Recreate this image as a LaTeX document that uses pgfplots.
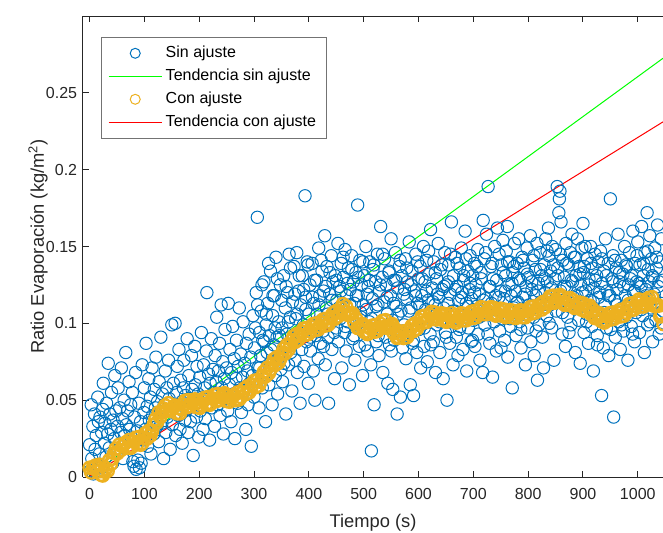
\documentclass[border=0pt]{standalone}
\usepackage{pgfplots}
\pgfplotsset{compat=1.18}
\usepackage{fontspec}
\setmainfont{Liberation Sans}

\definecolor{mblue}{rgb}{0,0.447,0.741}
\definecolor{myellow}{rgb}{0.929,0.694,0.125}
\definecolor{maxis}{rgb}{0.15,0.15,0.15}
\definecolor{mleg}{rgb}{0.45,0.45,0.45}

\begin{document}
\begin{tikzpicture}
\begin{axis}[
    scale only axis,
    width=348pt, height=276.6pt,
    xmin=-12, xmax=1046, ymin=0, ymax=0.3,
    axis x line*=box, axis y line*=left,
    axis line style={maxis, line width=0.6pt},
    tick style={maxis, line width=0.6pt},
    major tick length=3.5pt,
    tick align=inside,
    xtick={0,100,200,300,400,500,600,700,800,900,1000},
    ytick={0,0.05,0.1,0.15,0.2,0.25},
    scaled y ticks=false,
    /pgf/number format/assume math mode=true,
    ticklabel style={font=\fontsize{9.6}{11}\selectfont, text=maxis},
    xticklabel style={/pgf/number format/set thousands separator={}, yshift=-3.5pt},
    yticklabel style={/pgf/number format/fixed, /pgf/number format/precision=2},
    xlabel={Tiempo (s)},
    ylabel={Ratio Evaporación (kg/m\textsuperscript{2})},
    label style={font=\fontsize{11}{13}\selectfont, text=maxis},
    xlabel style={at={(axis description cs:0.5,-0.1)}, anchor=center},
    ylabel style={at={(axis description cs:-0.0776,0.5)}, anchor=center},
    clip=false,
    legend cell align=left,
    legend image code/.code={\draw[mark repeat=2,mark phase=2] plot coordinates {(0pt,0pt) (16pt,0pt) (32pt,0pt)};},
    legend style={at={(0.031,0.954)}, anchor=north west, draw=mleg, line width=0.5pt,
        fill=white, font=\fontsize{9.6}{11}\selectfont, inner xsep=4pt, inner ysep=2.5pt,
        row sep=0pt, nodes={inner sep=2pt, text height=7.3pt, text depth=2.5pt}},
]

% Sin ajuste
\addplot[forget plot, only marks, draw=mblue, mark=o, mark size=3.7pt, mark options={draw=mblue, line width=0.6pt}] coordinates {
(0,0.021)(1,0.004)(3,0.047)(4,0.012)(6,0.033)(7,0.002)(9,0.041)(10,0.018)(12,0.027)(13,0.008)(15,0.052)(16,0.036)(18,0.015)(19,0.039)(21,0.006)(22,0.029)(24,0.044)
(25,0.061)(27,0.022)(28,0.035)(30,0.013)(31,0.048)(33,0.028)(34,0.074)(36,0.019)(37,0.041)(39,0.031)(40,0.055)(42,0.009)(43,0.037)(45,0.025)(46,0.066)(48,0.043)(49,0.016)
(51,0.033)(52,0.058)(54,0.021)(55,0.045)(57,0.029)(58,0.071)(60,0.038)(61,0.012)(63,0.050)(64,0.027)(66,0.081)(67,0.034)(69,0.043)(70,0.019)(72,0.062)(73,0.031)(75,0.047)
(76,0.026)(78,0.055)(79,0.010)(81,0.007)(82,0.039)(84,0.068)(85,0.005)(87,0.030)(88,0.011)(90,0.048)(91,0.006)(93,0.036)(94,0.009)(96,0.073)(97,0.024)(99,0.042)
(100,0.058)(102,0.031)(103,0.087)(105,0.046)(106,0.020)(108,0.064)(109,0.037)(111,0.052)(112,0.015)(114,0.071)(115,0.040)(117,0.028)(118,0.057)(120,0.045)(121,0.078)(123,0.033)(124,0.049)
(126,0.023)(127,0.062)(129,0.042)(130,0.091)(132,0.035)(133,0.054)(135,0.012)(136,0.047)(138,0.069)(139,0.029)(141,0.058)(142,0.039)(144,0.076)(145,0.051)(147,0.018)(148,0.043)(150,0.099)
(151,0.034)(153,0.061)(154,0.046)(156,0.100)(157,0.027)(159,0.055)(160,0.072)(162,0.040)(163,0.083)(165,0.031)(166,0.063)(168,0.049)(169,0.022)(171,0.058)(172,0.076)(174,0.037)(175,0.053)
(177,0.044)(178,0.090)(180,0.029)(181,0.066)(183,0.051)(184,0.036)(186,0.079)(187,0.057)(189,0.014)(190,0.047)(192,0.085)(193,0.060)(195,0.039)(196,0.072)(198,0.054)(199,0.026)
(201,0.065)(202,0.043)(204,0.094)(205,0.052)(207,0.031)(208,0.073)(210,0.058)(211,0.038)(213,0.082)(214,0.120)(216,0.048)(217,0.067)(219,0.024)(220,0.061)(222,0.090)(223,0.045)(225,0.070)
(226,0.055)(228,0.033)(229,0.079)(231,0.062)(232,0.104)(234,0.047)(235,0.069)(237,0.087)(238,0.040)(240,0.112)(241,0.058)(243,0.075)(244,0.028)(246,0.064)(247,0.096)(249,0.051)
(250,0.071)(252,0.043)(253,0.113)(255,0.060)(256,0.083)(258,0.036)(259,0.068)(261,0.098)(262,0.054)(264,0.077)(265,0.025)(267,0.064)(268,0.089)(270,0.048)(271,0.072)(273,0.110)(274,0.058)
(276,0.080)(277,0.042)(279,0.065)(280,0.101)(282,0.056)(283,0.074)(285,0.031)(286,0.087)(288,0.069)(289,0.047)(291,0.093)(292,0.061)(294,0.078)(295,0.020)(297,0.066)(298,0.105)(300,0.052)
(301,0.084)(303,0.063)(304,0.120)(306,0.169)(307,0.071)(309,0.045)(310,0.094)(312,0.079)(313,0.108)(315,0.058)(316,0.089)(318,0.127)(319,0.068)(321,0.036)(322,0.099)(324,0.081)(325,0.113)
(327,0.060)(328,0.092)(330,0.134)(331,0.075)(333,0.047)(334,0.105)(336,0.086)(337,0.118)(339,0.066)(340,0.143)(342,0.091)(343,0.054)(345,0.101)(346,0.079)(348,0.125)(349,0.070)
(351,0.097)(352,0.062)(354,0.131)(355,0.085)(357,0.110)(358,0.041)(360,0.093)(361,0.120)(363,0.073)(364,0.145)(366,0.104)(367,0.081)(369,0.056)(370,0.114)(372,0.090)(373,0.137)(375,0.076)
(376,0.103)(378,0.146)(379,0.068)(381,0.121)(382,0.094)(384,0.048)(385,0.112)(387,0.083)(388,0.131)(390,0.099)(391,0.072)(393,0.183)(394,0.117)(396,0.088)(397,0.140)(399,0.061)(400,0.106)
(402,0.125)(403,0.082)(405,0.098)(406,0.139)(408,0.069)(409,0.113)(411,0.050)(412,0.092)(414,0.128)(415,0.106)(417,0.077)(418,0.149)(420,0.118)(421,0.087)(423,0.102)(424,0.134)
(426,0.095)(427,0.121)(429,0.157)(430,0.073)(432,0.110)(433,0.137)(435,0.091)(436,0.048)(438,0.119)(439,0.100)(441,0.144)(442,0.083)(444,0.127)(445,0.106)(447,0.064)(448,0.131)(450,0.097)
(451,0.115)(453,0.152)(454,0.088)(456,0.124)(457,0.103)(459,0.139)(460,0.071)(462,0.111)(463,0.130)(465,0.094)(466,0.148)(468,0.082)(469,0.118)(471,0.101)(472,0.136)(474,0.060)(475,0.122)
(477,0.107)(478,0.144)(480,0.090)(481,0.127)(483,0.113)(484,0.076)(486,0.133)(487,0.099)(489,0.177)(490,0.118)(492,0.085)(493,0.141)(495,0.104)(496,0.125)(498,0.066)(499,0.112)
(501,0.131)(502,0.094)(504,0.150)(505,0.109)(507,0.082)(508,0.124)(510,0.101)(511,0.140)(513,0.073)(514,0.017)(516,0.116)(517,0.135)(519,0.047)(520,0.098)(522,0.127)(523,0.088)(525,0.145)
(526,0.112)(528,0.079)(529,0.121)(531,0.163)(532,0.097)(534,0.130)(535,0.068)(537,0.114)(538,0.142)(540,0.091)(541,0.125)(543,0.106)(544,0.061)(546,0.133)(547,0.086)(549,0.118)(550,0.155)
(552,0.102)(553,0.057)(555,0.128)(556,0.089)(558,0.146)(559,0.111)(561,0.041)(562,0.123)(564,0.095)(565,0.137)(567,0.052)(568,0.108)(570,0.131)(571,0.084)(573,0.119)(574,0.099)
(576,0.142)(577,0.077)(579,0.116)(580,0.127)(582,0.092)(583,0.153)(585,0.060)(586,0.110)(588,0.134)(589,0.087)(591,0.053)(592,0.121)(594,0.100)(595,0.145)(597,0.081)(598,0.113)(600,0.129)
(601,0.096)(603,0.137)(604,0.071)(606,0.118)(607,0.104)(609,0.150)(610,0.085)(612,0.127)(613,0.109)(615,0.141)(616,0.075)(618,0.115)(619,0.132)(621,0.093)(622,0.161)(624,0.106)(625,0.123)
(627,0.088)(628,0.140)(630,0.112)(631,0.068)(633,0.129)(634,0.099)(636,0.152)(637,0.117)(639,0.081)(640,0.135)(642,0.105)(643,0.122)(645,0.064)(646,0.110)(648,0.146)(649,0.094)
(651,0.125)(652,0.050)(654,0.113)(655,0.138)(657,0.087)(658,0.119)(660,0.166)(661,0.101)(663,0.073)(664,0.131)(666,0.108)(667,0.143)(669,0.091)(670,0.124)(672,0.079)(673,0.115)(675,0.136)
(676,0.098)(678,0.149)(679,0.120)(681,0.083)(682,0.128)(684,0.106)(685,0.160)(687,0.113)(688,0.069)(690,0.134)(691,0.097)(693,0.122)(694,0.144)(696,0.088)(697,0.116)(699,0.131)
(700,0.102)(702,0.139)(703,0.085)(705,0.125)(706,0.111)(708,0.148)(709,0.093)(711,0.119)(712,0.076)(714,0.133)(715,0.105)(717,0.068)(718,0.167)(720,0.142)(721,0.099)(723,0.116)(724,0.158)
(726,0.108)(727,0.189)(729,0.124)(730,0.087)(732,0.137)(733,0.113)(735,0.065)(736,0.129)(738,0.101)(739,0.150)(741,0.118)(742,0.082)(744,0.162)(745,0.109)(747,0.145)(748,0.095)(750,0.121)
(751,0.138)(753,0.103)(754,0.154)(756,0.116)(757,0.089)(759,0.131)(760,0.147)(762,0.163)(763,0.078)(765,0.125)(766,0.140)(768,0.098)(769,0.118)(771,0.058)(772,0.133)(774,0.110)(775,0.152)
(777,0.121)(778,0.092)(780,0.139)(781,0.114)(783,0.155)(784,0.101)(786,0.128)(787,0.084)(789,0.143)(790,0.117)(792,0.106)(793,0.136)(795,0.073)(796,0.124)(798,0.149)(799,0.097)
(801,0.130)(802,0.112)(804,0.157)(805,0.088)(807,0.122)(808,0.141)(810,0.104)(811,0.079)(813,0.135)(814,0.118)(816,0.152)(817,0.063)(819,0.126)(820,0.099)(822,0.146)(823,0.114)(825,0.131)
(826,0.091)(828,0.071)(829,0.138)(831,0.120)(832,0.155)(834,0.105)(835,0.127)(837,0.162)(838,0.144)(840,0.112)(841,0.134)(843,0.097)(844,0.150)(846,0.118)(847,0.076)(849,0.129)(850,0.148)
(851,0.108)(853,0.189)(854,0.136)(856,0.172)(857,0.181)(858,0.186)(859,0.121)(860,0.166)(862,0.093)(863,0.141)(865,0.115)(866,0.130)(868,0.085)(869,0.152)(871,0.124)(872,0.104)(874,0.138)(875,0.111)
(877,0.146)(878,0.099)(880,0.158)(881,0.127)(883,0.113)(884,0.143)(886,0.081)(887,0.131)(889,0.118)(890,0.155)(892,0.102)(893,0.137)(895,0.074)(896,0.125)(898,0.149)(900,0.165)
(901,0.133)(902,0.094)(904,0.150)(905,0.121)(907,0.106)(908,0.142)(910,0.087)(911,0.129)(913,0.115)(914,0.150)(916,0.098)(917,0.136)(919,0.069)(920,0.123)(922,0.145)(923,0.108)(925,0.131)
(926,0.092)(928,0.140)(929,0.117)(931,0.103)(932,0.147)(934,0.053)(935,0.126)(937,0.084)(938,0.134)(940,0.112)(941,0.155)(943,0.097)(944,0.121)(946,0.139)(947,0.079)(949,0.118)(950,0.181)
(952,0.106)(953,0.129)(955,0.144)(956,0.039)(958,0.115)(959,0.091)(961,0.136)(962,0.122)(964,0.158)(965,0.101)(967,0.127)(968,0.083)(970,0.141)(971,0.110)(973,0.132)(974,0.095)
(976,0.150)(977,0.118)(979,0.104)(980,0.137)(982,0.076)(983,0.125)(985,0.146)(986,0.112)(988,0.098)(989,0.131)(991,0.160)(992,0.120)(994,0.088)(995,0.139)(997,0.107)(998,0.127)(1000,0.153)
(1001,0.115)(1003,0.094)(1004,0.138)(1006,0.124)(1007,0.163)(1009,0.105)(1010,0.131)(1012,0.081)(1013,0.146)(1015,0.118)(1017,0.172)(1018,0.099)(1019,0.135)(1021,0.127)(1022,0.157)(1024,0.110)
(1025,0.142)(1027,0.088)(1028,0.130)(1030,0.119)(1031,0.149)(1033,0.102)(1034,0.136)(1036,0.164)(1037,0.124)(1039,0.093)(1040,0.140)(1042,0.113)(1043,0.155)(1045,0.128)(1046,0.108)
(302.5,0.097)(306.5,0.112)(310.5,0.071)(314.5,0.125)(318.5,0.088)(322.5,0.106)(326.5,0.139)(330.5,0.083)(334.5,0.118)(338.5,0.097)(342.5,0.129)(346.5,0.092)(350.5,0.115)(354.5,0.074)
(358.5,0.124)(362.5,0.101)(366.5,0.136)(370.5,0.089)(374.5,0.119)(378.5,0.106)(382.5,0.131)(386.5,0.095)(390.5,0.122)(394.5,0.109)(398.5,0.138)(402.5,0.091)(406.5,0.117)(410.5,0.128)
(414.5,0.099)(418.5,0.112)(422.5,0.141)(426.5,0.085)(430.5,0.124)(434.5,0.106)(438.5,0.133)(442.5,0.115)(446.5,0.094)(450.5,0.128)(454.5,0.110)(458.5,0.121)(462.5,0.143)(466.5,0.098)
(470.5,0.126)(474.5,0.112)(478.5,0.135)(482.5,0.092)(486.5,0.118)(490.5,0.130)(494.5,0.107)(498.5,0.140)
(502.5,0.086)(506.5,0.119)(510.5,0.128)(514.5,0.103)(518.5,0.138)(522.5,0.111)(526.5,0.092)(530.5,0.125)(534.5,0.145)(538.5,0.102)(542.5,0.117)(546.5,0.134)(550.5,0.082)(554.5,0.113)
(558.5,0.128)(562.5,0.106)(566.5,0.141)(570.5,0.095)(574.5,0.122)(578.5,0.136)(582.5,0.108)(586.5,0.125)(590.5,0.089)(594.5,0.118)(598.5,0.140)
(602.5,0.112)(606.5,0.129)(610.5,0.097)(614.5,0.121)(618.5,0.147)(622.5,0.086)(626.5,0.114)(630.5,0.133)(634.5,0.119)(638.5,0.101)(642.5,0.138)(646.5,0.124)(650.5,0.091)(654.5,0.127)
(658.5,0.145)(662.5,0.108)(666.5,0.122)(670.5,0.139)(674.5,0.096)(678.5,0.117)(682.5,0.131)(686.5,0.142)(690.5,0.111)(694.5,0.126)(698.5,0.089)
(702.5,0.120)(706.5,0.137)(710.5,0.104)(714.5,0.129)(718.5,0.115)(722.5,0.146)(726.5,0.093)(730.5,0.124)(734.5,0.139)(738.5,0.110)(742.5,0.128)(746.5,0.117)(750.5,0.084)(754.5,0.133)
(758.5,0.121)(762.5,0.140)(766.5,0.103)(770.5,0.126)(774.5,0.137)(778.5,0.113)(782.5,0.129)(786.5,0.096)(790.5,0.141)(794.5,0.119)(798.5,0.132)
(802.5,0.108)(806.5,0.127)(810.5,0.144)(814.5,0.095)(818.5,0.121)(822.5,0.135)(826.5,0.112)(830.5,0.129)(834.5,0.147)(838.5,0.100)(842.5,0.123)(846.5,0.138)(850.5,0.116)(854.5,0.131)
(858.5,0.145)(862.5,0.107)(866.5,0.124)(870.5,0.139)(874.5,0.094)(878.5,0.128)(882.5,0.117)(886.5,0.143)(890.5,0.110)(894.5,0.132)(898.5,0.120)
(902.5,0.137)(906.5,0.101)(910.5,0.125)(914.5,0.139)(918.5,0.114)(922.5,0.128)(926.5,0.086)(930.5,0.120)(934.5,0.142)(938.5,0.107)(942.5,0.131)(946.5,0.118)(950.5,0.096)(954.5,0.127)
(958.5,0.141)(962.5,0.112)(966.5,0.133)(970.5,0.099)(974.5,0.124)(978.5,0.138)(982.5,0.115)(986.5,0.129)(990.5,0.093)(994.5,0.121)(998.5,0.144)
(1002.5,0.126)(1006.5,0.109)(1010.5,0.139)(1014.5,0.122)(1018.5,0.147)(1022.5,0.101)(1026.5,0.131)(1030.5,0.116)(1034.5,0.143)(1038.5,0.127)(1042.5,0.097)
};
\addlegendimage{only marks, draw=mblue, mark=o, mark size=3pt, mark options={draw=mblue, line width=0.6pt}}
\addlegendentry{Sin ajuste}

% Tendencia sin ajuste
\addplot[draw=green, line width=0.6pt] coordinates {(0,0.0005) (1046,0.2725)};
\addlegendentry{Tendencia sin ajuste}

% Con ajuste
\addplot[forget plot, only marks, draw=myellow, mark=o, mark size=3.7pt, mark options={draw=myellow, line width=1.4pt}] coordinates {
(0,0.006)(3,0.003)(6,0.006)(9,0.007)(12,0.0075)(15,0.0035)(18,0.008)(21,0.0015)(24,0.001)(27,0.0035)
(30,0.0055)(33,0.004)(36,0.011)(39,0.0085)(42,0.012)(45,0.0155)(48,0.0185)(51,0.0155)(54,0.021)(57,0.0175)
(60,0.020)(63,0.0215)(66,0.0225)(69,0.019)(72,0.024)(75,0.019)(78,0.020)(81,0.023)(84,0.0255)(87,0.0215)
(90,0.026)(93,0.021)(96,0.022)(99,0.0255)(102,0.0285)(105,0.025)(108,0.030)(111,0.027)(114,0.030)(117,0.034)
(120,0.0375)(123,0.0355)(126,0.042)(129,0.039)(132,0.042)(135,0.0445)(138,0.0465)(141,0.043)(144,0.048)(147,0.043)
(150,0.044)(153,0.0455)(156,0.0465)(159,0.0415)(162,0.045)(165,0.0415)(168,0.044)(171,0.047)(174,0.0495)(177,0.0455)
(180,0.050)(183,0.046)(186,0.048)(189,0.0495)(192,0.0505)(195,0.0455)(198,0.049)(201,0.045)(204,0.047)(207,0.0495)
(210,0.0515)(213,0.0475)(216,0.052)(219,0.047)(222,0.048)(225,0.051)(228,0.0535)(231,0.0495)(234,0.054)(237,0.050)
(240,0.052)(243,0.0535)(246,0.0545)(249,0.0495)(252,0.053)(255,0.049)(258,0.051)(261,0.0525)(264,0.0535)(267,0.050)
(270,0.055)(273,0.0505)(276,0.052)(279,0.055)(282,0.0575)(285,0.054)(288,0.059)(291,0.055)(294,0.057)(297,0.060)
(300,0.0625)(303,0.0585)(306,0.063)(309,0.0595)(312,0.062)(315,0.0655)(318,0.0685)(321,0.0655)(324,0.071)(327,0.0675)
(330,0.070)(333,0.0735)(336,0.0765)(339,0.073)(342,0.078)(345,0.0745)(348,0.077)(351,0.0805)(354,0.0835)(357,0.0805)
(360,0.086)(363,0.083)(366,0.086)(369,0.089)(372,0.0915)(375,0.088)(378,0.093)(381,0.0895)(384,0.092)(387,0.0945)
(390,0.0965)(393,0.0925)(396,0.097)(399,0.093)(402,0.095)(405,0.0975)(408,0.0995)(411,0.0955)(414,0.100)(417,0.096)
(420,0.098)(423,0.1005)(426,0.1025)(429,0.0985)(432,0.103)(435,0.099)(438,0.101)(441,0.104)(444,0.1065)(447,0.103)
(450,0.108)(453,0.1045)(456,0.107)(459,0.110)(462,0.1125)(465,0.1075)(468,0.111)(471,0.1055)(474,0.106)(477,0.1065)
(480,0.1065)(483,0.1005)(486,0.103)(489,0.097)(492,0.097)(495,0.0985)(498,0.0995)(501,0.0945)(504,0.098)(507,0.093)
(510,0.094)(513,0.0965)(516,0.0985)(519,0.0945)(522,0.099)(525,0.095)(528,0.097)(531,0.0995)(534,0.1015)(537,0.0975)
(540,0.102)(543,0.097)(546,0.098)(549,0.099)(552,0.0995)(555,0.0935)(558,0.096)(561,0.0905)(564,0.091)(567,0.093)
(570,0.0945)(573,0.0905)(576,0.095)(579,0.091)(582,0.093)(585,0.096)(588,0.0985)(591,0.095)(594,0.100)(597,0.0965)
(600,0.099)(603,0.102)(606,0.1045)(609,0.1005)(612,0.105)(615,0.101)(618,0.103)(621,0.1055)(624,0.1075)(627,0.103)
(630,0.107)(633,0.1025)(636,0.104)(639,0.1055)(642,0.1065)(645,0.102)(648,0.106)(651,0.101)(654,0.102)(657,0.1045)
(660,0.1065)(663,0.1015)(666,0.105)(669,0.1005)(672,0.102)(675,0.1045)(678,0.1065)(681,0.102)(684,0.106)(687,0.102)
(690,0.104)(693,0.106)(696,0.1075)(699,0.1035)(702,0.108)(705,0.104)(708,0.106)(711,0.1085)(714,0.1105)(717,0.106)
(720,0.110)(723,0.106)(726,0.108)(729,0.1095)(732,0.1105)(735,0.106)(738,0.110)(741,0.105)(744,0.106)(747,0.108)
(750,0.1095)(753,0.105)(756,0.109)(759,0.104)(762,0.105)(765,0.107)(768,0.1085)(771,0.104)(774,0.108)(777,0.1035)
(780,0.105)(783,0.107)(786,0.1085)(789,0.104)(792,0.108)(795,0.104)(798,0.106)(801,0.1085)(804,0.1105)(807,0.1065)
(810,0.111)(813,0.107)(816,0.109)(819,0.111)(822,0.1125)(825,0.109)(828,0.114)(831,0.1105)(834,0.113)(837,0.1155)
(840,0.1175)(843,0.1135)(846,0.118)(849,0.1135)(852,0.115)(855,0.117)(858,0.1185)(861,0.1135)(864,0.117)(867,0.112)
(870,0.113)(873,0.115)(876,0.1165)(879,0.1115)(882,0.115)(885,0.110)(888,0.111)(891,0.1125)(894,0.1135)(897,0.109)
(900,0.113)(903,0.108)(906,0.109)(909,0.1105)(912,0.1115)(915,0.106)(918,0.109)(921,0.1035)(924,0.104)(927,0.1055)
(930,0.1065)(933,0.1015)(936,0.105)(939,0.1005)(942,0.102)(945,0.1045)(948,0.1065)(951,0.1025)(954,0.107)(957,0.103)
(960,0.105)(963,0.107)(966,0.1085)(969,0.1045)(972,0.109)(975,0.105)(978,0.107)(981,0.110)(984,0.1125)(987,0.1085)
(990,0.113)(993,0.109)(996,0.111)(999,0.1135)(1002,0.1155)(1005,0.111)(1008,0.115)(1011,0.111)(1014,0.113)(1017,0.115)
(1020,0.1165)(1023,0.1125)(1026,0.117)(1029,0.1115)(1032,0.112)(1035,0.112)(1038,0.1115)(1041,0.1045)(1044,0.106)(1047,0.0995)
};
\addlegendimage{only marks, draw=myellow, mark=o, mark size=3pt, mark options={draw=myellow, line width=0.6pt}}
\addlegendentry{Con ajuste}

% Tendencia con ajuste
\addplot[draw=red, line width=0.6pt] coordinates {(0,0.0005) (1046,0.2311)};
\addlegendentry{Tendencia con ajuste}

\coordinate (SW) at (rel axis cs:0,0);
\coordinate (NE) at (rel axis cs:1,1);
\end{axis}
\pgfresetboundingbox
\path ([shift={(-49.8pt,-33pt)}]SW) rectangle ([shift={(0pt,9.6pt)}]NE);
\end{tikzpicture}
\end{document}
